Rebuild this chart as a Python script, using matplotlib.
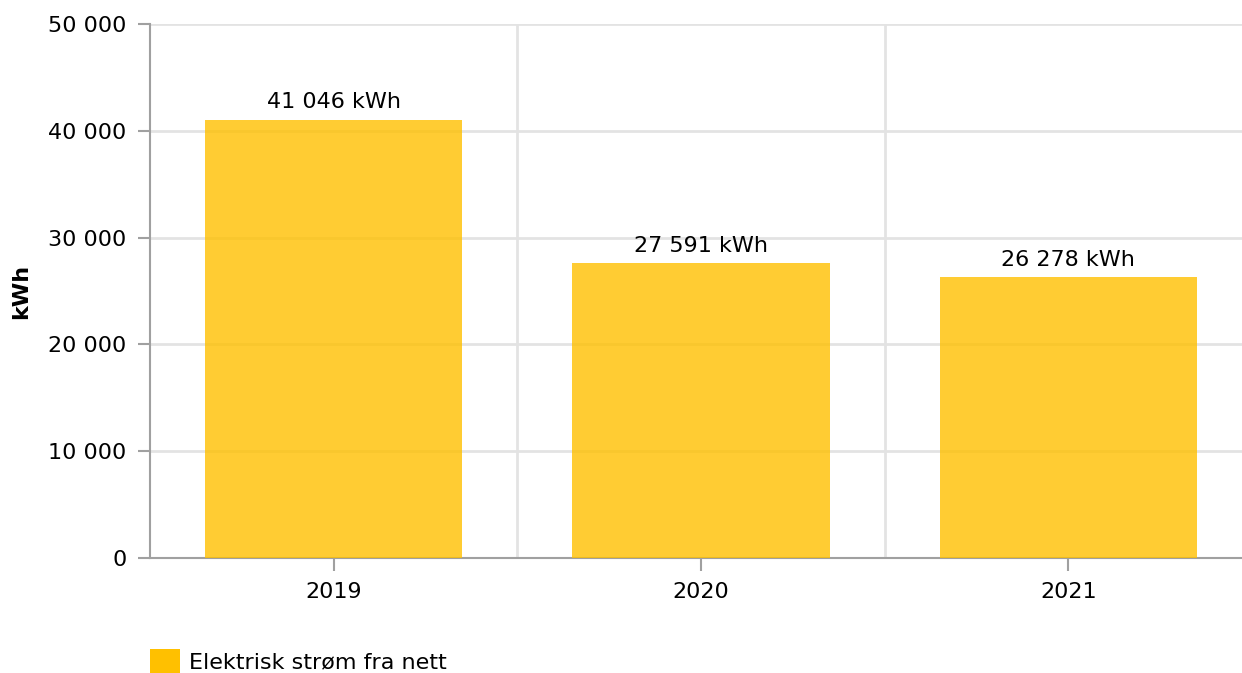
import matplotlib.pyplot as plt
from matplotlib.patches import Patch

years = ["2019", "2020", "2021"]
values = [41046, 27591, 26278]
series_name = "Elektrisk strøm fra nett"
y_ticks = [0, 10000, 20000, 30000, 40000, 50000]


def space_fmt(v):
    return f"{v:,.0f}".replace(",", " ")


plt.rcParams['font.family'] = ['DejaVu Sans']
fig = plt.figure(figsize=(12.42, 6.73), dpi=100)
ax = fig.add_axes([150 / 1242, 1 - 558 / 673, 1102 / 1242, 534 / 673])

x = range(len(years))
ax.bar(x, values, width=0.70, color="#FFC000", alpha=0.8, zorder=3)
for xi, v in zip(x, values):
    ax.text(xi, v + 700, space_fmt(v) + " kWh", ha="center", va="bottom", fontsize=16)

ax.set_xlim(-0.5, 2.5)
ax.set_ylim(0, 50000)
ax.set_yticks(y_ticks)
ax.set_yticklabels([space_fmt(t) for t in y_ticks], fontsize=16)
ax.set_xticks(list(x))
ax.set_xticklabels(years, fontsize=16)
ax.set_xticks([0.5, 1.5], minor=True)

ax.grid(axis="y", color="#e3e3e3", lw=2, zorder=0)
ax.grid(axis="x", which="minor", color="#e3e3e3", lw=2, zorder=0)
ax.tick_params(axis="x", which="minor", length=0)
ax.tick_params(axis="both", which="major", color="#a0a0a0", width=1.5, length=9, pad=8)

for s in ["top", "right"]:
    ax.spines[s].set_visible(False)
for s in ["left", "bottom"]:
    ax.spines[s].set_color("#a0a0a0")
    ax.spines[s].set_linewidth(1.5)

ax.set_ylabel("kWh", fontsize=16, fontweight="bold", labelpad=12)

handle = Patch(facecolor="#FFC000", edgecolor="none")
fig.legend([handle], [series_name], loc="center left", bbox_to_anchor=(150 / 1242, 1 - 661 / 673),
           frameon=False, fontsize=16, borderpad=0, borderaxespad=0,
           handlelength=1.35, handleheight=1.25, handletextpad=0.4)

fig.savefig("out.png", dpi=100)
